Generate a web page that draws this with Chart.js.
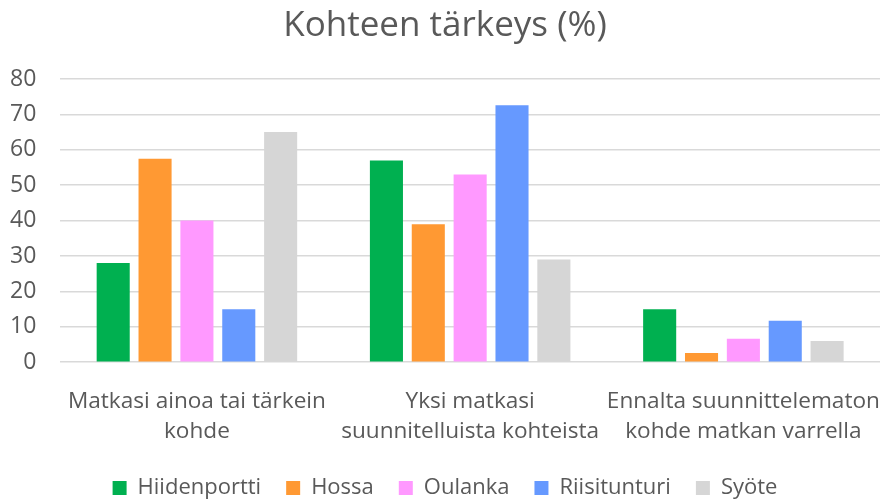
<!DOCTYPE html>
<html>
<head>
<meta charset="utf-8">
<script src="https://cdn.jsdelivr.net/npm/chart.js@4"></script>
<style>
  html, body { margin: 0; padding: 0; background: #fff; }
  #wrap { width: 880px; height: 501px; }
</style>
</head>
<body>
<div id="wrap"><canvas id="chart" width="880" height="501"></canvas></div>
<script>
const categories = [
  ['Matkasi ainoa tai tärkein', 'kohde'],
  ['Yksi matkasi', 'suunnitelluista kohteista'],
  ['Ennalta suunnittelematon', 'kohde matkan varrella']
];
const hiidenportti = [28, 57, 15];
const hossa = [57.5, 39, 2.6];
const oulanka = [40, 53, 6.6];
const riisitunturi = [15, 72.6, 11.7];
const syote = [65, 29, 6];

const seriesNames = ['Hiidenportti', 'Hossa', 'Oulanka', 'Riisitunturi', 'Syöte'];
const seriesColors = ['#00b050', '#ff9933', '#ff99ff', '#6699ff', '#d6d6d6'];
const seriesData = [hiidenportti, hossa, oulanka, riisitunturi, syote];

const font = "'Open Sans', 'Noto Sans', sans-serif";

// pull the legend a little lower than Chart.js puts it
const legendShift = {
  id: 'legendShift',
  beforeInit(chart) {
    const fit = chart.legend.fit;
    chart.legend.fit = function () {
      fit.call(this);
      this.height -= 8;
    };
  }
};

const ctx = document.getElementById('chart').getContext('2d');
const chart = new Chart(ctx, {
  type: 'bar',
  data: {
    labels: categories,
    datasets: seriesNames.map((name, i) => ({
      label: name,
      data: seriesData[i],
      backgroundColor: seriesColors[i],
      borderWidth: 0,
      barPercentage: 0.79,
      categoryPercentage: 0.766
    }))
  },
  plugins: [legendShift],
  options: {
    responsive: false,
    animation: false,
    layout: { padding: { left: 10, right: 0, top: 2, bottom: 0 } },
    plugins: {
      title: {
        display: true,
        text: 'Kohteen tärkeys (%)',
        color: '#595959',
        font: { family: font, size: 35, weight: 'normal' },
        padding: { top: 3, bottom: 32 }
      },
      legend: {
        position: 'bottom',
        labels: {
          color: '#595959',
          font: { family: font, size: 22 },
          boxWidth: 14,
          boxHeight: 14,
          padding: 25
        }
      },
      tooltip: { enabled: false }
    },
    scales: {
      x: {
        grid: { display: false },
        border: { display: false },
        ticks: {
          color: '#595959',
          font: { family: font, size: 22.6, lineHeight: 1.3 },
          maxRotation: 0,
          autoSkip: false,
          padding: 17
        },
        afterFit(scale) {
          scale.paddingLeft = 0;
          scale.paddingRight = 0;
          scale.height -= 11;
        }
      },
      y: {
        min: 0,
        max: 80,
        ticks: {
          stepSize: 10,
          color: '#595959',
          font: { family: font, size: 23 },
          padding: 24
        },
        grid: { color: '#d9d9d9', lineWidth: 1.5, drawTicks: false },
        border: { display: false },
        afterFit(scale) {
          scale.width -= 24;
        }
      }
    }
  }
});
</script>
</body>
</html>
